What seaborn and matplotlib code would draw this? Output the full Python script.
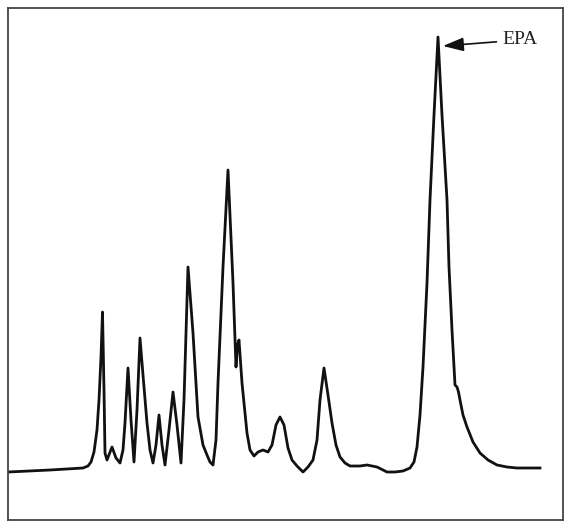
import numpy as np
import pandas as pd
import matplotlib
matplotlib.use("Agg")
import matplotlib.pyplot as plt
import seaborn as sns

# trace (retention position, detector response)
ret_time = [0, 42, 75, 80, 83, 86, 89, 91, 93, 94.5, 96, 97, 99, 104, 108, 112,
            115, 117, 120, 123, 126, 129, 132, 135, 139, 142, 145, 148, 151, 154,
            157, 161, 165, 169, 173, 176, 180, 185, 190, 195, 199, 202, 205, 208, 210,
            215, 220, 225, 228, 229.5, 231, 234, 239, 242, 246, 250, 255, 260,
            264, 268, 272, 276, 280, 284, 289, 295, 300, 305, 309, 312, 316, 320,
            324, 328, 332, 337, 342, 352, 359, 369, 379, 387, 395, 402, 406, 409,
            412, 415, 419, 422, 426, 430, 434, 439, 441, 444, 447, 449, 450.5,
            452, 455, 459, 465, 472, 480, 489, 499, 509, 532]
response = [48, 50, 52, 54, 58, 68, 90, 120, 163, 208, 130, 67, 60, 73, 62, 57,
            70, 97, 152, 100, 58, 110, 182, 145, 97, 70, 57, 75, 105, 75,
            55, 90, 128, 95, 57, 120, 253, 187, 103, 75, 65, 58, 55, 80, 137,
            253, 350, 237, 153, 175, 180, 137, 87, 70, 64, 68, 70, 68,
            75, 95, 103, 95, 72, 60, 54, 48, 53, 60, 80, 120, 152, 125,
            97, 75, 63, 57, 54, 54, 55, 53, 48, 48, 49, 52, 58, 73,
            105, 153, 237, 320, 405, 483, 405, 320, 253, 190, 135, 133, 128,
            120, 105, 93, 78, 67, 60, 55, 53, 52, 52]

peak_label = "EPA"

df = pd.DataFrame({"t": ret_time, "r": response})

W, H = 569, 526
fig = plt.figure(figsize=(W / 100, H / 100), dpi=100)
ax = fig.add_axes([8 / W, 6 / H, 555 / W, 512 / H])

sns.lineplot(data=df, x="t", y="r", sort=False, estimator=None,
             color="#111111", linewidth=2.0, ax=ax)

ax.set_xlim(0, 555)
ax.set_ylim(0, 512)
ax.set_xticks([])
ax.set_yticks([])
ax.set_xlabel("")
ax.set_ylabel("")
for s in ax.spines.values():
    s.set_color("#444444")
    s.set_linewidth(1.3)

# label the tallest peak
i = int(np.argmax(response))
pt, pr = ret_time[i], response[i]
ax.annotate(peak_label, xy=(pt + 5, pr - 9), xytext=(pt + 64, pr - 3),
            fontsize=14, family="Liberation Serif", color="#222222",
            ha="left", va="center",
            arrowprops=dict(arrowstyle="-|>,head_length=0.9,head_width=0.3",
                            color="#111111", lw=1.2, shrinkA=2, shrinkB=0))

fig.savefig("out.png", dpi=100, facecolor="white")
